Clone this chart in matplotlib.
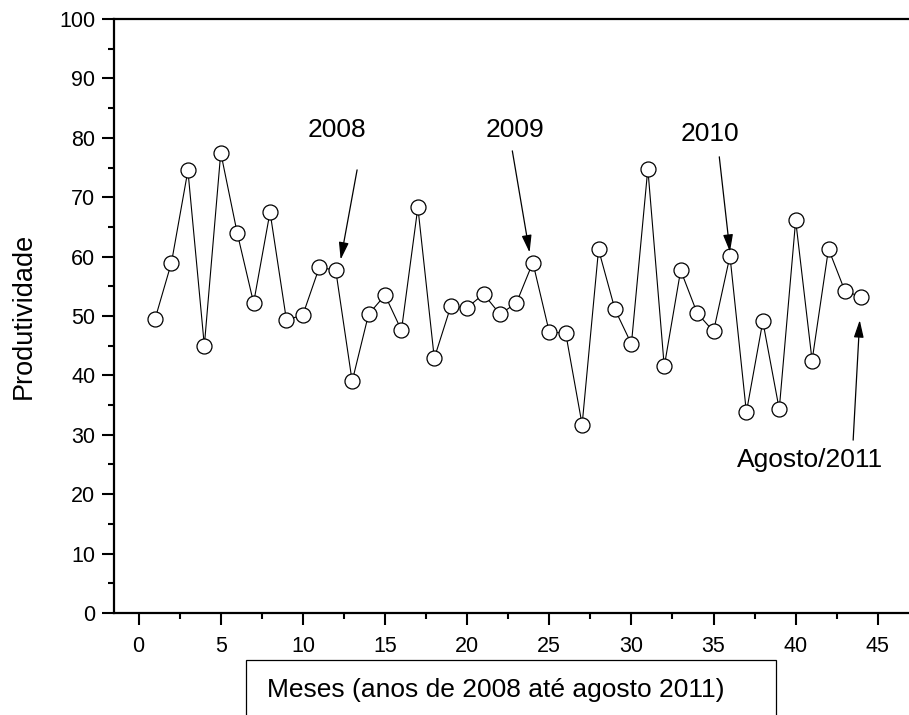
import matplotlib
matplotlib.use('Agg')
import matplotlib.pyplot as plt
from matplotlib.patches import Rectangle
from matplotlib.ticker import MultipleLocator

# Produtividade mensal (jan/2008 ate ago/2011)
meses = list(range(1, 45))
produtividade = [49.5, 59.0, 74.5, 45.0, 77.5, 64.0, 52.2, 67.5, 49.3, 50.2,
                 58.2, 57.7, 39.0, 50.3, 53.5, 47.6, 68.3, 42.9, 51.6, 51.4,
                 53.7, 50.3, 52.2, 59.0, 47.3, 47.1, 31.7, 61.2, 51.1, 45.3,
                 74.8, 41.5, 57.7, 50.5, 47.4, 60.1, 33.8, 49.1, 34.3, 66.1,
                 42.5, 61.3, 54.2, 53.2]

# rotulos das setas: texto, posicao do texto, inicio e ponta da seta
rotulos = ['2008', '2009', '2010', 'Agosto/2011']
pos_texto = [(12.1, 81.3), (22.9, 81.3), (34.8, 80.6), (40.9, 25.8)]
seta_inicio = [(13.3, 74.6), (22.75, 77.8), (35.35, 76.8), (43.5, 29.1)]
seta_ponta = [(12.3, 59.5), (23.8, 60.7), (36.0, 60.8), (43.9, 49.3)]

plt.rcParams['font.family'] = ['Liberation Sans', 'DejaVu Sans']

fig = plt.figure(figsize=(9.09, 7.15), dpi=100)
ax = fig.add_axes([0.1254, 0.1427, 0.8746, 0.8307])

ax.plot(meses, produtividade, color='black', linewidth=0.8,
        marker='o', markersize=10.8, markerfacecolor='white',
        markeredgecolor='black', markeredgewidth=0.9)

ax.set_xlim(-1.5, 46.9)
ax.set_ylim(0, 100)
ax.xaxis.set_major_locator(MultipleLocator(5))
ax.xaxis.set_minor_locator(MultipleLocator(2.5))
ax.yaxis.set_major_locator(MultipleLocator(10))
ax.yaxis.set_minor_locator(MultipleLocator(5))
ax.tick_params(which='both', direction='out', width=1.5, labelsize=15.5)
ax.tick_params(which='major', length=8.5)
ax.tick_params(which='minor', length=4.5)
ax.tick_params(axis='x', pad=8)
ax.tick_params(axis='y', pad=5)

for lado in ['left', 'bottom', 'top']:
    ax.spines[lado].set_linewidth(1.6)
ax.spines['right'].set_visible(False)

ax.set_ylabel('Produtividade', fontsize=19.5, labelpad=16)

for txt, pt, ini, ponta in zip(rotulos, pos_texto, seta_inicio, seta_ponta):
    ax.text(pt[0], pt[1], txt, fontsize=19, ha='center', va='center')
    ax.annotate('', xy=ponta, xytext=ini,
                arrowprops=dict(arrowstyle='-|>,head_length=0.7,head_width=0.2',
                                mutation_scale=15, color='black', lw=0.9,
                                shrinkA=0, shrinkB=0))

# caixa do rotulo do eixo x
caixa = Rectangle((0.2706, -0.05), 0.5831, 0.1269, transform=fig.transFigure,
                  fill=False, edgecolor='black', linewidth=0.9, clip_on=False)
fig.patches.append(caixa)
fig.text(0.2937, 0.0252, 'Meses (anos de 2008 até agosto 2011)', fontsize=19,
         ha='left', va='baseline')

fig.savefig('out.png', dpi=100)
